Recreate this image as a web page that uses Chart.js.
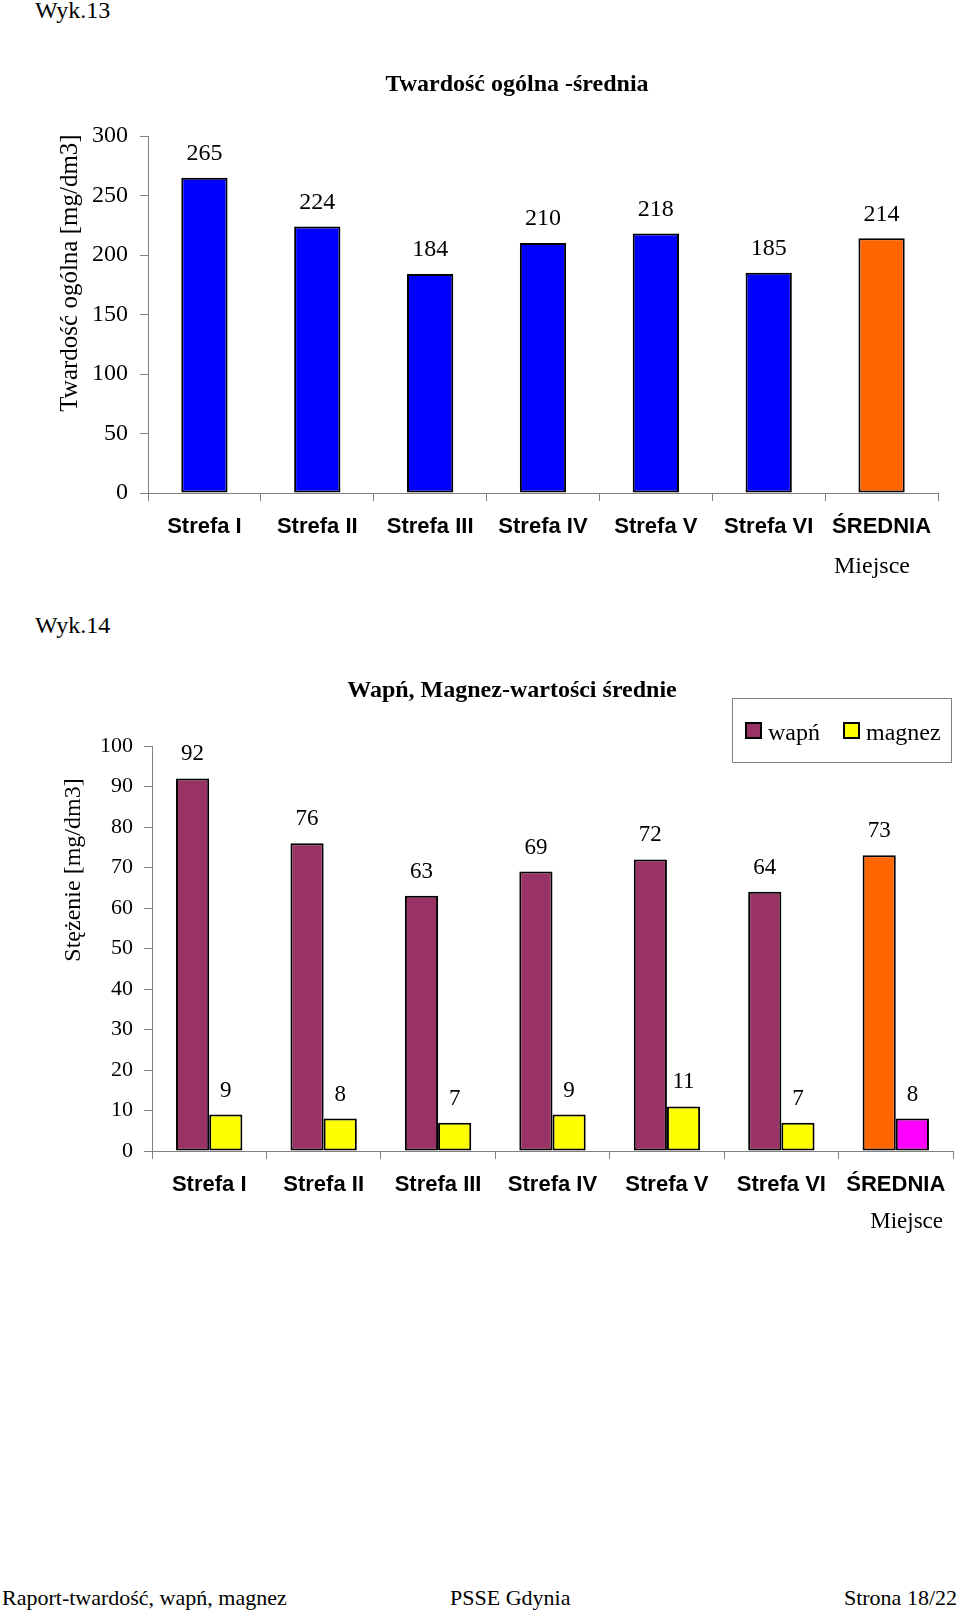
<!DOCTYPE html>
<html lang="pl">
<head>
<meta charset="utf-8">
<title>Wyk.13 / Wyk.14</title>
<script src="https://cdn.jsdelivr.net/npm/chart.js@4/dist/chart.umd.min.js"></script>
<style>
  body { margin: 0; width: 960px; height: 1614px; position: relative; background: #fff;
         font-family: "Liberation Serif", "Times New Roman", serif; color: #000; overflow: hidden; }
  .txt { position: absolute; font-size: 24px; line-height: 1; white-space: nowrap; }
  .foot { font-size: 22px; top: 1587px; }
  canvas { position: absolute; left: 0; }
</style>
</head>
<body>
<div class="txt" style="left:35px; top:-2px">Wyk.13</div>
<canvas id="hardChart" width="960" height="560" style="top:40px"></canvas>
<div class="txt" style="left:35px; top:613px">Wyk.14</div>
<canvas id="caMgChart" width="960" height="600" style="top:640px"></canvas>
<div class="txt foot" style="left:2px">Raport-twardość, wapń, magnez</div>
<div class="txt foot" style="left:450px">PSSE Gdynia</div>
<div class="txt foot" style="right:3px">Strona 18/22</div>

<script>
const places = ["Strefa I", "Strefa II", "Strefa III", "Strefa IV", "Strefa V", "Strefa VI", "ŚREDNIA"];
const hardness = [265, 224, 184, 210, 218, 185, 214];
const calcium = [92, 76, 63, 69, 72, 64, 73];
const magnesium = [9, 8, 7, 9, 11, 7, 8];
const hardTicks = [0, 50, 100, 150, 200, 250, 300];
const caMgTicks = [0, 10, 20, 30, 40, 50, 60, 70, 80, 90, 100];

const SERIF = '"Liberation Serif", "Times New Roman", serif';
const SANS = '"Liberation Sans", Arial, sans-serif';
const AXIS_GREY = "#808080";

// last bar (average) gets its own colour
function barColors(normal, avg) {
    return places.map((p, i) => i === places.length - 1 ? avg : normal);
}

// titles, axis names, value labels and the boxed legend
const chartText = {
    id: "chartText",
    afterDraw(chart, args, o) {
        const ctx = chart.ctx;
        ctx.save();
        ctx.fillStyle = "#000";

        ctx.font = "bold 24px " + SERIF;
        ctx.textAlign = "center";
        ctx.textBaseline = "alphabetic";
        ctx.fillText(o.title.text, o.title.x, o.title.y);

        ctx.font = o.xTitle.size + "px " + SERIF;
        ctx.textAlign = "right";
        ctx.fillText(o.xTitle.text, o.xTitle.x, o.xTitle.y);

        ctx.save();
        ctx.translate(o.yTitle.x, o.yTitle.y);
        ctx.rotate(-Math.PI / 2);
        ctx.font = o.yTitle.size + "px " + SERIF;
        ctx.textAlign = "center";
        ctx.fillText(o.yTitle.text, 0, 0);
        ctx.restore();

        // value labels above every bar
        ctx.font = o.valueSize + "px " + SERIF;
        ctx.textAlign = "center";
        ctx.textBaseline = "middle";
        chart.data.datasets.forEach((ds, di) => {
            chart.getDatasetMeta(di).data.forEach((bar, i) => {
                ctx.fillText(String(ds.data[i]), bar.x, bar.y - 24);
            });
        });

        if (o.legend) {
            const L = o.legend;
            ctx.strokeStyle = AXIS_GREY;
            ctx.lineWidth = 1;
            ctx.strokeRect(L.x + 0.5, L.y + 0.5, L.w, L.h);
            ctx.font = "24px " + SERIF;
            ctx.textAlign = "left";
            ctx.textBaseline = "alphabetic";
            chart.data.datasets.forEach((ds, di) => {
                const sx = L.items[di];
                ctx.fillStyle = ds.backgroundColor[0];
                ctx.fillRect(sx, L.y + 25, 15, 15);
                ctx.strokeStyle = "#000";
                ctx.lineWidth = 2;
                ctx.strokeRect(sx, L.y + 25, 15, 15);
                ctx.fillStyle = "#000";
                ctx.fillText(ds.label, sx + 22, L.y + 42);
            });
        }
        ctx.restore();
    }
};

function axes(ticks, yWidth, tickPad, tickSize) {
    return {
        x: {
            offset: true,
            grid: { offset: true, drawOnChartArea: false, drawTicks: true, tickLength: 8, color: AXIS_GREY },
            border: { display: true, color: AXIS_GREY, width: 1 },
            ticks: { color: "#000", padding: 13, font: { family: SANS, size: 22, weight: "bold" }, maxRotation: 0, autoSkip: false },
            afterFit: s => { s.height = 60; }
        },
        y: {
            min: ticks[0],
            max: ticks[ticks.length - 1],
            afterBuildTicks: s => { s.ticks = ticks.map(v => ({ value: v })); },
            grid: { drawOnChartArea: false, drawTicks: true, tickLength: 8, color: AXIS_GREY },
            border: { display: true, color: AXIS_GREY, width: 1 },
            ticks: { color: "#000", padding: tickPad, font: { family: SERIF, size: tickSize } },
            afterFit: s => { s.width = yWidth; }
        }
    };
}

// Wyk.13 - total hardness
new Chart(document.getElementById("hardChart"), {
    type: "bar",
    data: {
        labels: places,
        datasets: [{
            label: "twardość",
            data: hardness,
            backgroundColor: barColors("#0000FF", "#FF6600"),
            borderColor: "#000",
            borderWidth: 2,
            borderSkipped: false,
            categoryPercentage: 0.41,
            barPercentage: 1
        }]
    },
    options: {
        responsive: false,
        animation: false,
        layout: { padding: { top: 96, right: 22, bottom: 47, left: 0 } },
        plugins: {
            legend: { display: false },
            tooltip: { enabled: false },
            chartText: {
                title: { text: "Twardość ogólna -średnia", x: 517, y: 51 },
                xTitle: { text: "Miejsce", x: 910, y: 533, size: 24 },
                yTitle: { text: "Twardość ogólna [mg/dm3]", x: 77, y: 233, size: 25 },
                valueSize: 24
            }
        },
        scales: axes(hardTicks, 148, 12, 24)
    },
    plugins: [chartText]
});

// Wyk.14 - calcium and magnesium
new Chart(document.getElementById("caMgChart"), {
    type: "bar",
    data: {
        labels: places,
        datasets: [{
            label: "wapń",
            data: calcium,
            backgroundColor: barColors("#993366", "#FF6600"),
            borderColor: "#000",
            borderWidth: 2,
            borderSkipped: false,
            categoryPercentage: 0.58,
            barPercentage: 1
        }, {
            label: "magnez",
            data: magnesium,
            backgroundColor: barColors("#FFFF00", "#FF00FF"),
            borderColor: "#000",
            borderWidth: 2,
            borderSkipped: false,
            categoryPercentage: 0.58,
            barPercentage: 1
        }]
    },
    options: {
        responsive: false,
        animation: false,
        layout: { padding: { top: 106, right: 7, bottom: 29, left: 0 } },
        plugins: {
            legend: { display: false },
            tooltip: { enabled: false },
            chartText: {
                title: { text: "Wapń, Magnez-wartości średnie", x: 512, y: 57 },
                xTitle: { text: "Miejsce", x: 943, y: 588, size: 23 },
                yTitle: { text: "Stężenie [mg/dm3]", x: 80, y: 230, size: 24 },
                valueSize: 23,
                legend: { x: 732, y: 58, w: 219, h: 64, items: [746, 844] }
            }
        },
        scales: axes(caMgTicks, 152, 11, 22)
    },
    plugins: [chartText]
});
</script>
</body>
</html>
